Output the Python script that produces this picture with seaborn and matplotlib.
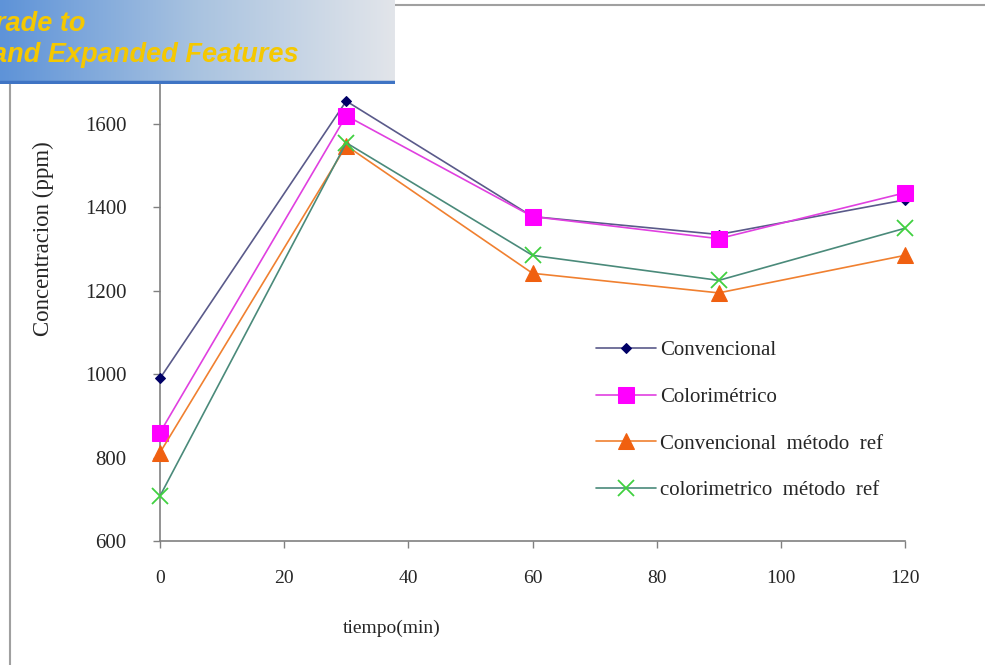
import numpy as np
import matplotlib
matplotlib.use("Agg")
import matplotlib.pyplot as plt
import seaborn as sns
from matplotlib.lines import Line2D
from matplotlib.colors import LinearSegmentedColormap

# Datos
tiempo = [0, 30, 60, 90, 120]
convencional = [990, 1655, 1378, 1335, 1418]
colorimetrico = [860, 1620, 1378, 1325, 1435]
conv_metodo_ref = [812, 1548, 1242, 1195, 1285]
color_metodo_ref = [708, 1555, 1285, 1225, 1350]

etiquetas = ["Convencional", "Colorimétrico", "Convencional  método  ref",
             "colorimetrico  método  ref"]
x_ticks = [0, 20, 40, 60, 80, 100, 120]
y_ticks = [600, 800, 1000, 1200, 1400, 1600]

sns.set_theme(style="white")
plt.rcParams['font.family'] = ['Liberation Serif', 'DejaVu Serif']

W, H = 985, 665
fig = plt.figure(figsize=(W / 100, H / 100), dpi=100)
ax = fig.add_axes([160 / W, 1 - 541 / H, 745 / W, 500.4 / H])

series = [
    (convencional, etiquetas[0], dict(color="#5a5a8a", marker="D", ms=5,
                                      mfc="#000066", mec="#000066")),
    (colorimetrico, etiquetas[1], dict(color="#e040e0", marker="s", ms=12,
                                       mfc="#ff00ff", mec="#ff00ff")),
    (conv_metodo_ref, etiquetas[2], dict(color="#f08030", marker="^", ms=11,
                                         mfc="#f06010", mec="#f06010")),
    (color_metodo_ref, etiquetas[3], dict(color="#4a8a7a", marker="x", ms=11,
                                          mfc="#40d040", mec="#40d040", mew=1.3)),
]
for valores, nombre, kw in series:
    sns.lineplot(x=tiempo, y=valores, ax=ax, label=nombre, lw=1.2,
                 clip_on=False, zorder=3, **kw)

ax.set_xlim(0, 120)
ax.set_ylim(600, 1800)
ax.set_xticks(x_ticks)
ax.set_yticks(y_ticks)
ax.tick_params(axis="both", direction="out", length=5,
               width=1, color="#808080", left=True, bottom=True)
ax.tick_params(axis="y", pad=19, labelsize=15)
ax.tick_params(axis="x", pad=16, labelsize=14)
for lado in ["top", "right"]:
    ax.spines[lado].set_visible(False)
for lado in ["left", "bottom"]:
    ax.spines[lado].set_color("#808080")
    ax.spines[lado].set_linewidth(1.2)

ax.set_xlabel("tiempo(min)", fontsize=14)
ax.set_ylabel("Concentracion (ppm)", fontsize=16.5)
ax.xaxis.set_label_coords(0.311, -0.158)
ax.yaxis.set_label_coords(-0.142, 0.605)

leg = ax.legend(loc="upper left", bbox_to_anchor=(0.585, 0.40), frameon=False,
                fontsize=15, handlelength=2.9, handletextpad=0.2,
                labelspacing=1.3, borderpad=0, borderaxespad=0)

# borde del area del grafico
fig.add_artist(Line2D([10 / W, 10 / W], [0, 1 - 5 / H], transform=fig.transFigure,
                      color="#a0a0a0", lw=1.5))
fig.add_artist(Line2D([10 / W, 1], [1 - 5 / H, 1 - 5 / H], transform=fig.transFigure,
                      color="#a0a0a0", lw=1.5))

# banner superior
bax = fig.add_axes([0, 1 - 84 / H, 395 / W, 84 / H], zorder=10)
grad = np.linspace(0, 1, 256).reshape(1, -1)
cmap = LinearSegmentedColormap.from_list("banner", ["#5e93d8", "#a9c3e0", "#e2e5ea"])
bax.imshow(grad, aspect="auto", cmap=cmap, extent=[0, 1, 0, 1])
bax.set_xlim(0, 1)
bax.set_ylim(0, 1)
bax.axis("off")
bax.axhline(0.02, color="#3f74c4", lw=2.5)
bax.text(-0.012, 0.72, "rade to", fontsize=19.5, fontweight="bold", fontstyle="italic",
         color="#f5c800", family="Liberation Sans", va="center", ha="left")
bax.text(-0.02, 0.34, "and Expanded Features", fontsize=19.5, fontweight="bold",
         fontstyle="italic", color="#f5c800", family="Liberation Sans",
         va="center", ha="left")

plt.savefig("out.png", dpi=100)
